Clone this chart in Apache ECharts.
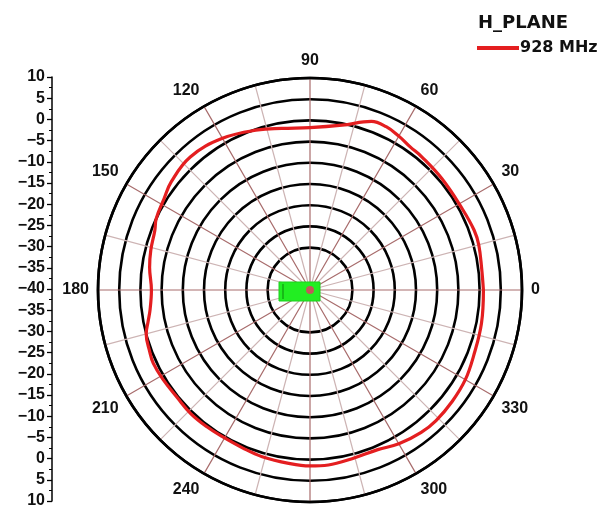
<!DOCTYPE html>
<html>
<head>
<meta charset="utf-8">
<script src="https://cdn.jsdelivr.net/npm/echarts@6/dist/echarts.min.js"></script>
<style>
  html, body { margin: 0; padding: 0; background: #ffffff; }
  #chart { width: 608px; height: 512px; }
</style>
</head>
<body>
<div id="chart"></div>
<script>
// ---- data ----
const seriesName = '928 MHz';
const planeTitle = 'H_PLANE';
const angleDeg = [0, 7, 15, 20, 28, 40, 50, 55, 60, 65, 70, 79, 90, 100, 108, 120, 132, 142, 148, 155, 159, 166, 172, 180, 187, 191, 195, 201, 205, 211, 219, 226, 233, 239, 247, 254, 263, 270, 276, 284, 293, 300, 308, 314, 322, 330, 338, 349, 360];
const gainDb = [0.9, 0.8, 1.2, 1.2, 0.7, 0.7, 1.0, 1.2, 1.9, 2.5, 2.3, -0.4, -1.7, -1.3, -0.3, 1.3, 2.2, 1.5, 0.6, 0.0, -0.8, -1.3, -1.8, -2.6, -2.0, -1.1, 0.0, 0.5, 0.8, 0.6, 0.3, 0.5, 0.4, 0.3, 0.5, 0.9, 1.2, 1.5, 1.5, 1.0, 0.9, 1.9, 2.6, 2.8, 2.6, 2.3, 1.6, 1.2, 0.9];
const angleLabels = [0, 30, 60, 90, 120, 150, 180, 210, 240, 300, 330];
const radialMin = -40, radialMax = 10, radialStep = 5;

const chart = echarts.init(document.getElementById('chart'), null, { renderer: 'canvas' });
const cx = 310, cy = 290, R = 212;

const ringColors = [];
for (let v = radialMin; v <= radialMax; v += radialStep) {
  ringColors.push(v < -30 ? 'rgba(0,0,0,0)' : '#000000');
}
const spokeColors = ['#a86c6c', '#cdb4b4'];

const data = angleDeg.map((a, i) => [gainDb[i], a]);
const labelFont = 'Liberation Sans, Arial, sans-serif';

chart.setOption({
  backgroundColor: '#ffffff',
  animation: false,
  title: {
    text: planeTitle,
    left: 473, top: 9,
    textStyle: { fontFamily: 'DejaVu Sans', fontWeight: 'bold', fontSize: 18, color: '#111' }
  },
  legend: {
    data: [seriesName],
    left: 472, top: 35,
    icon: 'rect', itemWidth: 42, itemHeight: 4, itemGap: 0,
    textStyle: { fontFamily: 'DejaVu Sans', fontWeight: 'bold', fontSize: 16, color: '#111', padding: [0,0,0,-4] }
  },
  polar: { center: [cx, cy], radius: R },
  radiusAxis: {
    min: radialMin, max: radialMax, interval: radialStep,
    axisLine: { show: false }, axisTick: { show: false }, axisLabel: { show: false },
    splitLine: { show: true, lineStyle: { color: ringColors, width: 2.6 } }
  },
  angleAxis: {
    type: 'value', min: 0, max: 360, interval: 15,
    startAngle: 0, clockwise: false,
    axisLine: { show: true, lineStyle: { color: '#000', width: 2.6 } },
    axisTick: { show: false },
    axisLabel: {
      margin: 9,
      fontFamily: labelFont, fontWeight: 'bold', fontSize: 16, color: '#111',
      formatter: v => (angleLabels.indexOf(v) >= 0 ? String(v) : '')
    },
    splitLine: { show: true, lineStyle: { color: spokeColors, width: 1.2 } }
  },
  grid: { left: 52, top: 77, height: 424, width: 10, containLabel: false },
  xAxis: { type: 'value', show: false, min: 0, max: 1 },
  yAxis: {
    type: 'value', min: -50, max: 50, interval: 5,
    axisLine: { show: true, lineStyle: { color: '#000', width: 1.5 } },
    axisTick: { show: true, inside: false, length: 5, lineStyle: { color: '#000', width: 1.3 } },
    minorTick: { show: true, splitNumber: 2, length: 3, lineStyle: { color: '#000', width: 1 } },
    splitLine: { show: false },
    axisLabel: {
      margin: 7,
      fontFamily: labelFont, fontWeight: 'bold', fontSize: 16, color: '#111',
      formatter: v => { const d = Math.abs(v) + radialMin; return d < 0 ? '\u2212' + Math.abs(d) : String(d); }
    }
  },
  graphic: [
    { type: 'rect', shape: { x: cx - 31, y: cy - 8, width: 41, height: 19 }, style: { fill: '#22ee22', stroke: '#1fcf1f', lineWidth: 1 }, z: 100 },
    { type: 'line', shape: { x1: cx - 27, y1: cy - 6, x2: cx - 27, y2: cy + 9 }, style: { stroke: '#14a814', lineWidth: 1.5 }, z: 101 },
    { type: 'circle', shape: { cx: cx, cy: cy, r: 4 }, style: { fill: '#c05a5a' }, z: 102 }
  ],
  series: [{
    name: seriesName,
    type: 'line',
    coordinateSystem: 'polar',
    data: data,
    smooth: 0.4,
    showSymbol: false,
    lineStyle: { color: '#e41e20', width: 3.2 },
    itemStyle: { color: '#e41e20' },
    z: 10
  }]
});
</script>
</body>
</html>
